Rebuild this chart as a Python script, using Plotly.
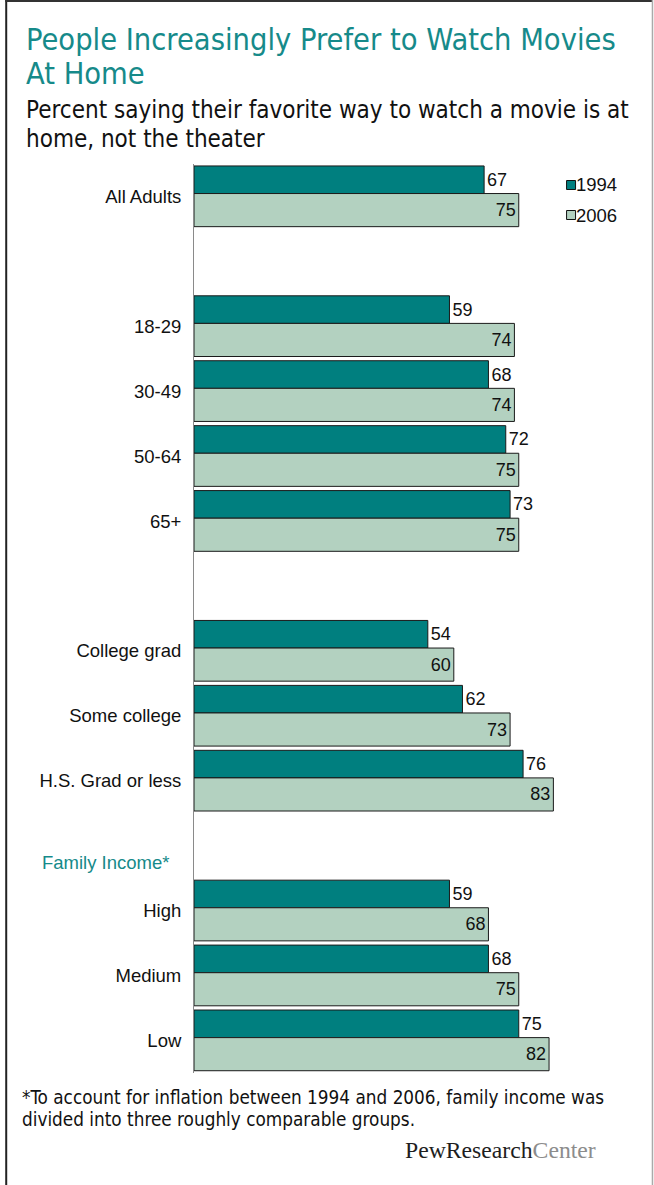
import plotly.graph_objects as go

# ---- data ----
categories = ["All Adults", "18-29", "30-49", "50-64", "65+",
              "College grad", "Some college", "H.S. Grad or less",
              "High", "Medium", "Low"]
values_1994 = [67, 59, 68, 72, 73, 54, 62, 76, 59, 68, 75]
values_2006 = [75, 74, 74, 75, 75, 60, 73, 83, 68, 75, 82]
series_names = ["1994", "2006"]

# layout rows (gaps between groups)
row_pos = [0, 2, 3, 4, 5, 7, 8, 9, 11, 12, 13]

W, H = 654, 1185
ML, MR, MT, MB = 194, 26.5, 164, 112
PW = W - ML - MR
PH = H - MT - MB

def px(x):
    return (x - ML) / PW

def py(y):
    return (H - MB - y) / PH

C_DARK = "#007f7f"
C_LIGHT = "#b3d1c0"
C_TITLE = "#168a8a"
FONT_ARIAL = "Liberation Sans, Arial, sans-serif"
FONT_TAHOMA = "DejaVu Sans Condensed, Liberation Sans Narrow, Noto Sans, sans-serif"

fig = go.Figure()
fig.add_trace(go.Bar(
    y=row_pos, x=values_1994, orientation="h", name=series_names[0],
    marker=dict(color=C_DARK, line=dict(color="#1a1a1a", width=1)),
    offset=-0.47, width=0.425,
    text=values_1994, textposition="outside", constraintext="none",
    textfont=dict(family=FONT_ARIAL, size=18, color="#111"),
    cliponaxis=False, showlegend=False,
))
fig.add_trace(go.Bar(
    y=row_pos, x=values_2006, orientation="h", name=series_names[1],
    marker=dict(color=C_LIGHT, line=dict(color="#1a1a1a", width=1)),
    offset=-0.045, width=0.51,
    text=values_2006, textposition="inside", insidetextanchor="end",
    constraintext="none",
    textfont=dict(family=FONT_ARIAL, size=18, color="#111"),
    cliponaxis=False, showlegend=False,
))

annotations = []
def ann(text, x, y, size, color, family, xanchor="left", yanchor="middle"):
    annotations.append(dict(text=text, x=px(x), y=py(y), xref="paper", yref="paper",
                            xanchor=xanchor, yanchor=yanchor, showarrow=False,
                            font=dict(size=size, color=color, family=family)))

ann("People Increasingly Prefer to Watch Movies", 24, 39.5, 30.5, C_TITLE, FONT_TAHOMA)
ann("At Home", 24, 74, 30.5, C_TITLE, FONT_TAHOMA)
ann("Percent saying their favorite way to watch a movie is at", 24, 110, 24, "#111", FONT_TAHOMA)
ann("home, not the theater", 24, 139, 24, "#111", FONT_TAHOMA)
ann("Family Income*", 171, 862, 18.5, C_TITLE, FONT_ARIAL, xanchor="right")
ann("*To account for inflation between 1994 and 2006, family income was", 20, 1097, 18.8, "#111", FONT_TAHOMA)
ann("divided into three roughly comparable groups.", 20, 1119, 18.8, "#111", FONT_TAHOMA)
ann("<span style='color:#1e1e1e'>PewResearch</span><span style='color:#8c8c8c'>Center</span>",
    403, 1150, 23.7, "#1e1e1e", "Liberation Serif, Times New Roman, serif")

# legend (manual)
shapes = []
leg_y = [185, 215]
leg_col = [C_DARK, C_LIGHT]
for name, yy, col in zip(series_names, leg_y, leg_col):
    shapes.append(dict(type="rect", xref="paper", yref="paper",
                       x0=px(567), x1=px(576), y0=py(yy - 4.5), y1=py(yy + 4.5),
                       fillcolor=col, line=dict(color="#111", width=1)))
    ann(name, 574.5, yy, 18.5, "#111", FONT_ARIAL)

# frame
shapes.append(dict(type="line", xref="paper", yref="paper", x0=px(6), x1=px(6),
                   y0=py(0), y1=py(H), line=dict(color="#222", width=2)))
shapes.append(dict(type="line", xref="paper", yref="paper", x0=px(5), x1=px(653),
                   y0=py(1), y1=py(1), line=dict(color="#333", width=2)))
shapes.append(dict(type="line", xref="paper", yref="paper", x0=px(653), x1=px(653),
                   y0=py(0), y1=py(H), line=dict(color="#aaaaaa", width=1.5)))

fig.update_layout(
    width=W, height=H,
    margin=dict(l=ML, r=MR, t=MT, b=MB, pad=0),
    paper_bgcolor="white", plot_bgcolor="white",
    barmode="overlay", showlegend=False,
    xaxis=dict(range=[0, 100], visible=False, fixedrange=True),
    yaxis=dict(range=[13.5, -0.5], tickmode="array", tickvals=row_pos,
               ticktext=categories, showline=True, linecolor="#8a8a8a", linewidth=1,
               showgrid=False, zeroline=False, ticks="", ticklabelstandoff=8,
               tickfont=dict(family=FONT_ARIAL, size=18.5, color="#111"),
               fixedrange=True),
    annotations=annotations, shapes=shapes,
)

fig.write_html("out.html")
